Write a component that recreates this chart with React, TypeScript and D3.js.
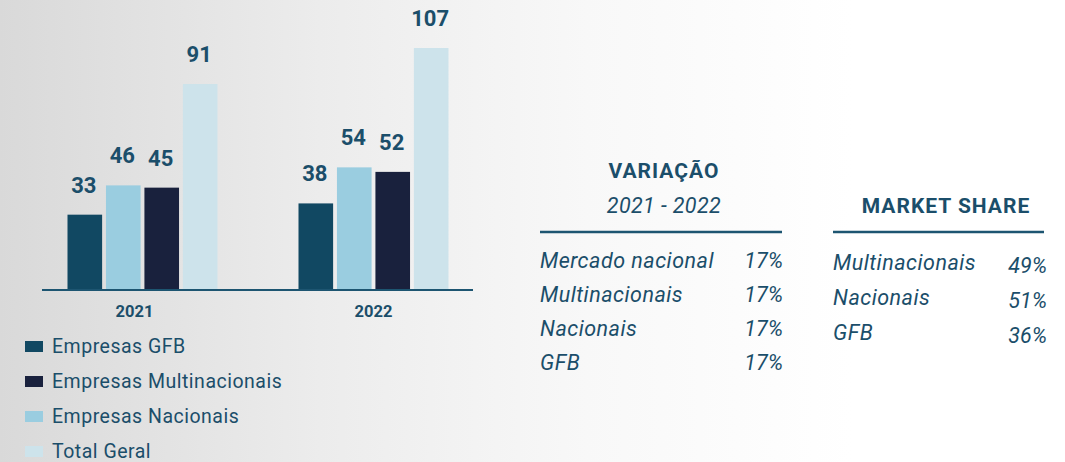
import React from "react";
import * as d3 from "d3";

const years = ["2021", "2022"];
const seriesOrder = ["Empresas GFB", "Empresas Nacionais", "Empresas Multinacionais", "Total Geral"];
const legendOrder = ["Empresas GFB", "Empresas Multinacionais", "Empresas Nacionais", "Total Geral"];
const gfb = [33, 38];
const nacionais = [46, 54];
const multinacionais = [45, 52];
const totalGeral = [91, 107];

const variacaoLabels = ["Mercado nacional", "Multinacionais", "Nacionais", "GFB"];
const variacaoValues = ["17%", "17%", "17%", "17%"];
const shareLabels = ["Multinacionais", "Nacionais", "GFB"];
const shareValues = ["49%", "51%", "36%"];

const colors: Record<string, string> = {
  "Empresas GFB": "#114862",
  "Empresas Nacionais": "#9acde0",
  "Empresas Multinacionais": "#19213d",
  "Total Geral": "#cde3eb",
};

const values: Record<string, number[]> = {
  "Empresas GFB": gfb,
  "Empresas Nacionais": nacionais,
  "Empresas Multinacionais": multinacionais,
  "Total Geral": totalGeral,
};

const TEXT = "#1b4e6a";
const FONT = "Roboto, 'Noto Sans', sans-serif";

export default function App() {
  const W = 1065;
  const H = 462;
  const x0 = d3.scaleBand().domain(years).range([27, 489]);
  const x1 = d3.scaleBand().domain(seriesOrder).range([40.5, 190.5]).paddingInner(0.1);
  const y = d3.scaleLinear().domain([0, 107]).range([289, 48]);

  const legendY = d3.scalePoint().domain(legendOrder).range([346, 451]);
  const varY = d3.scalePoint().domain(variacaoLabels).range([268, 370]);
  const shareY = d3.scalePoint().domain(shareLabels).range([270, 340]);

  return (
    <svg width={W} height={H} style={{ position: "absolute", left: 0, top: 0 }} fontFamily={FONT}>
      <defs>
        <linearGradient id="bg" x1="0" x2="1" y1="0" y2="0">
          <stop offset="0" stopColor="#d9d9d9" />
          <stop offset="0.3" stopColor="#ececec" />
          <stop offset="0.55" stopColor="#f8f8f8" />
          <stop offset="0.8" stopColor="#ffffff" />
          <stop offset="1" stopColor="#ffffff" />
        </linearGradient>
      </defs>
      <rect x={0} y={0} width={W} height={H} fill="url(#bg)" />

      {years.map((yr, i) => (
        <g key={yr} transform={`translate(${x0(yr)},0)`}>
          {seriesOrder.map((s) => {
            const v = values[s][i];
            const bx = x1(s)!;
            return (
              <g key={s}>
                <rect x={bx} y={y(v)} width={x1.bandwidth()} height={y(0) - y(v)} fill={colors[s]} />
                <text
                  x={bx + x1.bandwidth() / 2 - 1}
                  y={y(v) - 22}
                  textAnchor="middle"
                  fontSize={22}
                  fontWeight={700}
                  fill={TEXT}
                >
                  {v}
                </text>
              </g>
            );
          })}
          <text
            x={x0.bandwidth() / 2 - (i === 0 ? 8 : 0)}
            y={317}
            textAnchor="middle"
            fontSize={16.5}
            fontWeight={700}
            fill={TEXT}
          >
            {yr}
          </text>
        </g>
      ))}
      <line x1={42} x2={473} y1={290} y2={290} stroke="#1d5571" strokeWidth={2} />

      {legendOrder.map((s) => (
        <g key={s}>
          <rect x={25} y={legendY(s)! - 5} width={18} height={11} fill={colors[s]} />
          <text x={52} y={legendY(s)! + 6.5} fontSize={19.5} letterSpacing={0.5} fill={TEXT}>
            {s}
          </text>
        </g>
      ))}

      <text x={664} y={178} textAnchor="middle" fontSize={21} fontWeight={700} letterSpacing={1} fill={TEXT}>
        VARIAÇÃO
      </text>
      <text x={664} y={213} textAnchor="middle" fontSize={21.5} fontStyle="italic" letterSpacing={0.4} fill={TEXT}>
        2021 - 2022
      </text>
      <line x1={540} x2={782} y1={232} y2={232} stroke="#1d5571" strokeWidth={2.5} />
      {variacaoLabels.map((l, i) => (
        <g key={l}>
          <text x={540} y={varY(l)} fontSize={21.5} fontStyle="italic" letterSpacing={0.5} fill={TEXT}>
            {l}
          </text>
          <text x={783} y={varY(l)} textAnchor="end" fontSize={21.5} fontStyle="italic" fill={TEXT}>
            {variacaoValues[i]}
          </text>
        </g>
      ))}

      <text x={946} y={213} textAnchor="middle" fontSize={21} fontWeight={700} letterSpacing={1} fill={TEXT}>
        MARKET SHARE
      </text>
      <line x1={833} x2={1044} y1={232} y2={232} stroke="#1d5571" strokeWidth={2.5} />
      {shareLabels.map((l, i) => (
        <g key={l}>
          <text x={833} y={shareY(l)} fontSize={21.5} fontStyle="italic" letterSpacing={0.5} fill={TEXT}>
            {l}
          </text>
          <text x={1047} y={shareY(l)! + 3} textAnchor="end" fontSize={21.5} fontStyle="italic" fill={TEXT}>
            {shareValues[i]}
          </text>
        </g>
      ))}
    </svg>
  );
}
